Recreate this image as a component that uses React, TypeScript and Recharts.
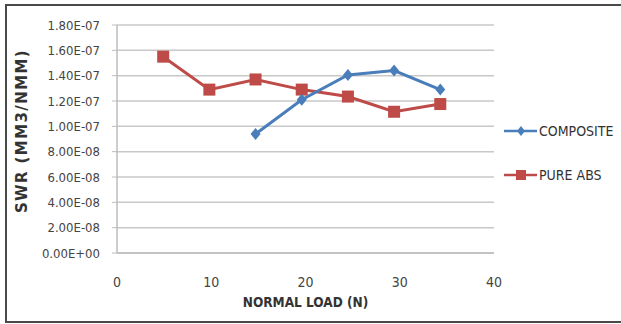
import { LineChart, Line, XAxis, YAxis, CartesianGrid, Label } from 'recharts'

const normalLoad = [4.9, 9.8, 14.7, 19.6, 24.5, 29.4, 34.3]
const composite = [null, null, 0.94e-7, 1.21e-7, 1.405e-7, 1.44e-7, 1.29e-7]
const pureAbs = [1.55e-7, 1.29e-7, 1.37e-7, 1.29e-7, 1.235e-7, 1.115e-7, 1.176e-7]
const xTicks = [0, 10, 20, 30, 40]
const yTicks = [0, 2e-8, 4e-8, 6e-8, 8e-8, 1e-7, 1.2e-7, 1.4e-7, 1.6e-7, 1.8e-7]

const BLUE = '#4a7ebb'
const RED = '#be4b48'
const FONT = '"DejaVu Sans Condensed", "Liberation Sans Narrow", "Liberation Sans", Arial, sans-serif'

const data = normalLoad.map((x, i) => ({
  load: x,
  COMPOSITE: composite[i],
  'PURE ABS': pureAbs[i],
}))

// Excel style: 1.80E-07
function sci(v: number) {
  if (v === 0) return '0.00E+00'
  const [m, e] = v.toExponential(2).split('e')
  const n = Number(e)
  const sign = n < 0 ? '-' : '+'
  return `${m}E${sign}${String(Math.abs(n)).padStart(2, '0')}`
}

const Diamond = (props: any) => {
  const { cx, cy } = props
  if (cx == null || cy == null) return null
  return <path d={`M${cx},${cy - 6}L${cx + 5},${cy}L${cx},${cy + 6}L${cx - 5},${cy}Z`} fill={BLUE} />
}

const Square = (props: any) => {
  const { cx, cy } = props
  if (cx == null || cy == null) return null
  return <rect x={cx - 6} y={cy - 6} width={12} height={12} fill={RED} />
}

const YTitle = () => (
  <text
    x={22}
    y={131}
    transform="rotate(-90, 22, 131)"
    textAnchor="middle"
    dominantBaseline="central"
    style={{ fill: '#333', fontSize: 15, fontWeight: 'bold', fontFamily: '"DejaVu Sans", sans-serif', letterSpacing: 1.4 }}
  >
    SWR (MM3/NMM)
  </text>
)

const LegendBox = () => (
  <div style={{ position: 'absolute', left: 504, top: 123, fontFamily: FONT, fontSize: 14, color: '#333' }}>
    <div style={{ display: 'flex', alignItems: 'center', height: 16 }}>
      <svg width={35} height={14}>
        <line x1={0} y1={7} x2={33} y2={7} stroke={BLUE} strokeWidth={2.5} />
        <path d="M17,2L21,7L17,12L13,7Z" fill={BLUE} />
      </svg>
      <span>COMPOSITE</span>
    </div>
    <div style={{ display: 'flex', alignItems: 'center', height: 16, marginTop: 28 }}>
      <svg width={35} height={14}>
        <line x1={0} y1={7} x2={33} y2={7} stroke={RED} strokeWidth={2.5} />
        <rect x={12} y={2} width={10} height={10} fill={RED} />
      </svg>
      <span>PURE ABS</span>
    </div>
  </div>
)

export default function App() {
  return (
    <div style={{ position: 'absolute', left: 0, top: 0, width: 621, height: 324, background: '#fff', overflow: 'hidden' }}>
      {/* frame, cropped on the right */}
      <div style={{ position: 'absolute', left: 5, top: 4, width: 640, height: 315, border: '2px solid #4a4a4a' }} />
      <div style={{ position: 'absolute', left: 0, top: 0 }}>
        <LineChart
          width={621}
          height={324}
          data={data}
          margin={{ top: 25, right: 127, bottom: 5, left: 37 }}
        >
          <CartesianGrid horizontal vertical={false} stroke="#c8c8c8" strokeWidth={1.5} />
          <XAxis
            dataKey="load"
            type="number"
            domain={[0, 40]}
            ticks={xTicks}
            interval={0}
            height={66}
            tickLine={false}
            axisLine={{ stroke: '#bcbcbc', strokeWidth: 1.5 }}
            tick={{ fill: '#444', fontSize: 14, fontFamily: FONT }}
            tickMargin={18}
          >
            <Label
              value="NORMAL LOAD (N)"
              position="insideBottom"
              offset={12}
              style={{ fill: '#333', fontSize: 13.5, fontWeight: 'bold', fontFamily: FONT }}
            />
          </XAxis>
          <YAxis
            type="number"
            domain={[0, 1.8e-7]}
            ticks={yTicks}
            interval={0}
            width={80}
            tickFormatter={sci}
            tickSize={5}
            tickLine={{ stroke: '#bcbcbc' }}
            axisLine={{ stroke: '#bcbcbc', strokeWidth: 1.5 }}
            tick={{ fill: '#444', fontSize: 13, fontFamily: FONT }}
            tickMargin={12}
          >
            <Label content={<YTitle />} />
          </YAxis>
          <Line
            dataKey="PURE ABS"
            stroke={RED}
            strokeWidth={3}
            dot={<Square />}
            activeDot={false}
            isAnimationActive={false}
          />
          <Line
            dataKey="COMPOSITE"
            stroke={BLUE}
            strokeWidth={3}
            dot={<Diamond />}
            activeDot={false}
            connectNulls={false}
            isAnimationActive={false}
          />
        </LineChart>
      </div>
      <LegendBox />
    </div>
  )
}
